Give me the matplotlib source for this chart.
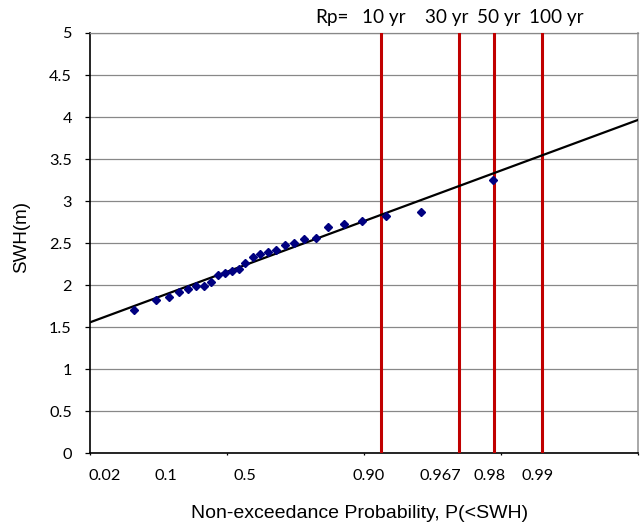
import numpy as np
import matplotlib
matplotlib.use("Agg")
import matplotlib.pyplot as plt
import matplotlib.transforms as mtransforms

# Gumbel reduced variate of the plotted points (x) and SWH in metres (y)
reduced_variate = [-1.353, -1.041, -0.851, -0.701, -0.574, -0.453, -0.340, -0.234,
                   -0.136, -0.029, 0.069, 0.171, 0.267, 0.380, 0.486, 0.599,
                   0.715, 0.847, 0.982, 1.128, 1.295, 1.479, 1.704, 1.971,
                   2.321, 2.832, 3.883]
swh = [1.702, 1.825, 1.865, 1.920, 1.955, 1.996, 1.992, 2.032,
       2.123, 2.139, 2.167, 2.187, 2.265, 2.333, 2.365, 2.396,
       2.413, 2.473, 2.496, 2.548, 2.563, 2.694, 2.730, 2.762,
       2.821, 2.865, 3.254]

# fitted line: SWH = intercept + slope * reduced variate
fit_intercept = 2.16
fit_slope = 0.301

# return periods (years) drawn as vertical lines
return_periods = [10, 30, 50, 100]
rp_labels = ["Rp=", "10 yr", "30 yr", "50 yr", "100 yr"]

# probability tick labels
prob_ticks = [0.02, 0.1, 0.5, 0.90, 0.967, 0.98, 0.99]
prob_labels = ["0.02", "0.1", "0.5", "0.90", "0.967", "0.98", "0.99"]

# cosmetic horizontal nudges (pixels) of the probability labels, as in the reference
label_nudge_px = [-28.6, -4.2, -7.1, -12.1, -19.5, -4.3, -4.1]
# left edges (pixels) of the words of the return-period header
rp_left_px = [315, 361.7, 425, 476.7, 529.3]


def gumbel(p):
    p = np.asarray(p, dtype=float)
    return -np.log(-np.log(p))


W, H = 643, 523
fig = plt.figure(figsize=(W / 100, H / 100), dpi=100)
ax = fig.add_axes([90 / W, 1 - 453.3 / H, (638 - 90) / W, (453.3 - 33) / H])

xmin, xmax = -2, 6
ax.set_xlim(xmin, xmax)
ax.set_ylim(0, 5)

# gridlines / y ticks
ax.set_yticks(np.arange(0, 5.01, 0.5))
ax.set_yticklabels(["0", "0.5", "1", "1.5", "2", "2.5", "3", "3.5", "4", "4.5", "5"],
                   fontfamily="Lato", fontsize=11.7)
ax.yaxis.grid(True, color="#888888", linewidth=0.9)
ax.set_axisbelow(True)
ax.tick_params(axis="y", direction="out", length=3.6, width=0.9, pad=9.4, colors="black")

# major x ticks (unlabelled)
ax.set_xticks(np.arange(xmin, xmax + 0.1, 2))
ax.set_xticklabels([])
ax.tick_params(axis="x", which="major", direction="out", length=1.5, width=0.9)

# probability labels
base = mtransforms.blended_transform_factory(ax.transData, ax.transAxes)
for p, lab, dx in zip(prob_ticks, prob_labels, label_nudge_px):
    tr = base + mtransforms.ScaledTranslation(dx / 100, -23 / 100, fig.dpi_scale_trans)
    ax.text(float(gumbel(p)), 0, lab, transform=tr, ha="center", va="center",
            fontfamily="Lato", fontsize=11.7, clip_on=False)

for side in ["left", "bottom"]:
    ax.spines[side].set_color("black")
    ax.spines[side].set_linewidth(1.2)
ax.spines["top"].set_color("#888888")
ax.spines["top"].set_linewidth(0.9)
ax.spines["right"].set_color("#999999")
ax.spines["right"].set_linewidth(1.2)

# return period lines
for T in return_periods:
    ax.axvline(gumbel(1 - 1 / T), color="#C00000", linewidth=2.2, zorder=3)

# fitted line
xs = np.array([xmin, xmax])
ax.plot(xs, fit_intercept + fit_slope * xs, color="black", linewidth=1.6, zorder=4)

# data points
ax.plot(reduced_variate, swh, linestyle="none", marker="D", markersize=4.3,
        color="#000080", zorder=5)

ax.set_ylabel("SWH(m)", fontfamily="Liberation Sans", fontsize=13.5)
ax.yaxis.set_label_coords((21.5 - 90) / 548, (453.3 - 237.5) / 420)
ax.yaxis.label.set_verticalalignment("center")
ax.set_xlabel("Non-exceedance Probability, P(<SWH)", fontfamily="Liberation Sans",
              fontsize=14)
ax.xaxis.set_label_coords((360 - 90) / 548, -(513 - 453.3) / 420)
ax.xaxis.label.set_verticalalignment("center")

for word, x_px in zip(rp_labels, rp_left_px):
    fig.text(x_px / W, 1 - 23.3 / H, word, fontfamily="Lato", fontsize=13.6,
             ha="left", va="baseline")

fig.savefig("out.png", dpi=100)
